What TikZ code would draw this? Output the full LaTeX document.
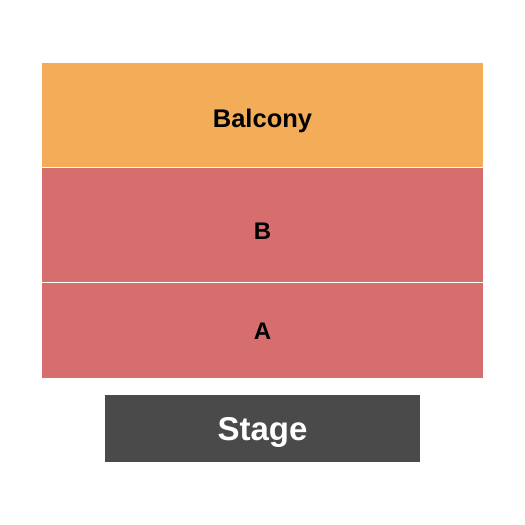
\documentclass[tikz,border=0pt]{standalone}
\usepackage{fontspec}
\setmainfont{Liberation Sans}
\usepackage{tikz}
\usetikzlibrary{calc,positioning}
\definecolor{balconycol}{HTML}{F3AD59}
\definecolor{floorcol}{HTML}{D76E6E}
\definecolor{stagecol}{HTML}{4A4A4A}
\tikzstyle{section}=[rectangle, inner sep=0pt, outer sep=0pt, minimum width=441pt]
\tikzstyle{label}=[anchor=base, inner sep=0pt, font=\bfseries]

\begin{document}
\begin{tikzpicture}[x=1pt, y=-1pt]
  \useasboundingbox (0,0) rectangle (525,525);
  % Balcony
  \node[section, fill=balconycol, minimum height=103.5pt, anchor=north west]
    at (42,63) (balcony) {};
  % B and A
  \node[section, fill=floorcol, minimum height=114.5pt, below=1pt of balcony]
    (secb) {};
  \node[section, fill=floorcol, minimum height=94.5pt, below=1pt of secb]
    (seca) {};
  % Stage
  \node[rectangle, fill=stagecol, minimum width=315pt, minimum height=66.5pt,
    inner sep=0pt, outer sep=0pt, below=17.5pt of seca] (stage) {};
  % labels
  \node[label, font=\fontsize{25.5}{25.5}\selectfont\bfseries] at ($(balcony.north)+(0,64)$)
    (balconylbl) {Balcony};
  \node[label, font=\fontsize{24}{24}\selectfont\bfseries] at ($(secb.north)+(0,72)$)
    (blbl) {B};
  \node[label, font=\fontsize{24}{24}\selectfont\bfseries] at ($(seca.north)+(0,56.5)$)
    (albl) {A};
  \node[label, white, font=\fontsize{33}{33}\selectfont\bfseries] at ($(stage.north)+(0,45.5)$)
    (stagelbl) {Stage};
\end{tikzpicture}
\end{document}
